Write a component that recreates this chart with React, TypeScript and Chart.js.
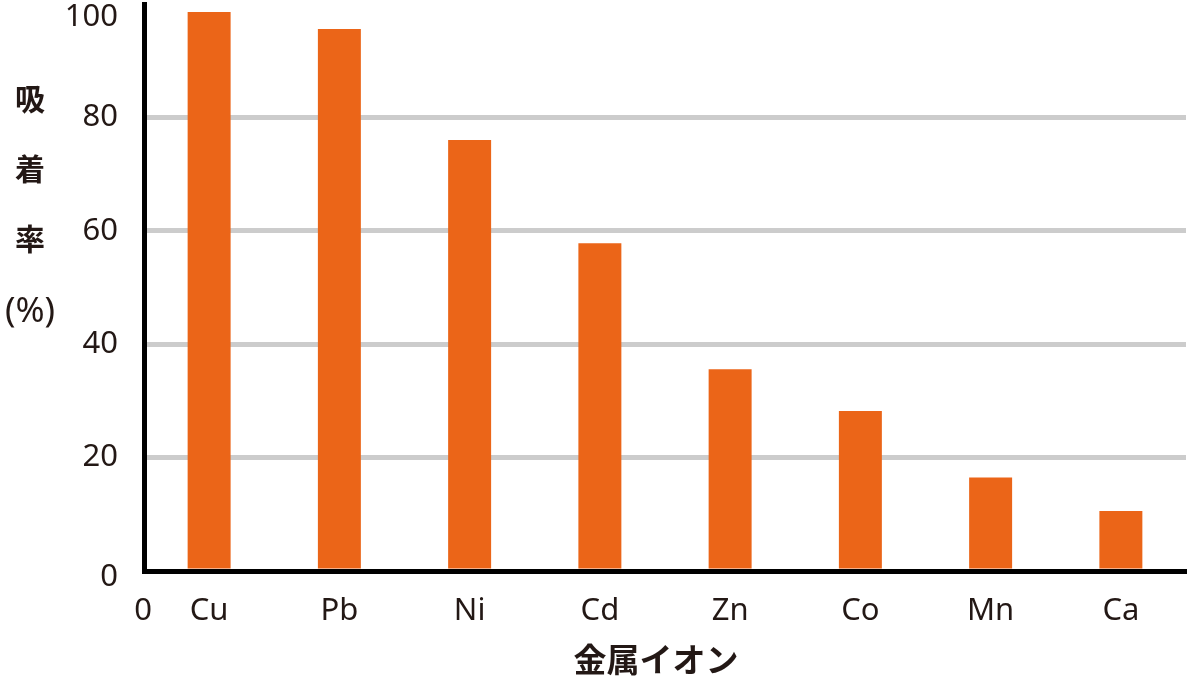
import React, { useEffect, useRef } from "react";
import { Chart, registerables } from "chart.js";

Chart.register(...registerables);

// data
const metals = ["Cu", "Pb", "Ni", "Cd", "Zn", "Co", "Mn", "Ca"];
const adsorptionRate = [98.6, 95.6, 76.0, 57.8, 35.6, 28.2, 16.5, 10.6];
const yTickValues = [0, 20, 40, 60, 80, 100];
const yTitleLines = ["吸", "着", "率", "(%)"];
const xTitle = "金属イオン";
const originLabel = "0";

const TEXT = "#231815";
const LATIN = '"Noto Sans", "Open Sans", sans-serif';
const CJK = '"Noto Sans CJK JP", "Noto Sans", sans-serif';

// draws the y tick labels, the extra "0" under the origin and both axis titles
const labelsPlugin = {
  id: "labels",
  afterDraw(chart: Chart) {
    const ctx = chart.ctx;
    const { left, right, top, bottom } = chart.chartArea;
    const y = chart.scales.y;
    ctx.save();
    ctx.fillStyle = TEXT;
    ctx.font = `31px ${LATIN}`;
    ctx.textAlign = "right";
    ctx.textBaseline = "middle";
    yTickValues.forEach((v) => {
      let py = y.getPixelForValue(v);
      if (v === yTickValues[yTickValues.length - 1]) py = Math.max(py, top + 13);
      if (v === 0) py += 6;
      ctx.fillText(String(v), left - 26, py);
    });

    ctx.textAlign = "center";
    ctx.fillText(originLabel, left - 1, bottom + 40);

    // vertical y title, one character per line
    yTitleLines.forEach((s, i) => {
      ctx.font = s.length > 1 ? `35px ${LATIN}` : `bold 30px ${CJK}`;
      ctx.fillText(s, left - 114, top + 95 + i * 70 + (s.length > 1 ? 3 : 0));
    });

    ctx.font = `bold 33px ${CJK}`;
    ctx.fillText(xTitle, (left + right) / 2 - 9, bottom + 88);
    ctx.restore();
  },
};

const App: React.FC = () => {
  const canvasRef = useRef<HTMLCanvasElement | null>(null);

  useEffect(() => {
    const ctx = canvasRef.current?.getContext("2d");
    if (!ctx) return;

    const chart = new Chart(ctx, {
      type: "bar",
      data: {
        labels: metals,
        datasets: [
          {
            label: "吸着率",
            data: adsorptionRate,
            backgroundColor: "#EB6518",
            borderWidth: 0,
            barPercentage: 0.33,
            categoryPercentage: 1,
          },
        ],
      },
      options: {
        animation: false,
        responsive: true,
        maintainAspectRatio: false,
        layout: { padding: { top: 4, right: 13, left: 0, bottom: 0 } },
        plugins: {
          legend: { display: false },
          tooltip: { enabled: false },
        },
        scales: {
          x: {
            grid: { display: false },
            border: { display: true, color: "#000", width: 5, z: 1 },
            ticks: {
              color: TEXT,
              font: { family: LATIN, size: 31 },
              padding: 14,
            },
            afterFit: (s: any) => {
              s.height = 120;
            },
          },
          y: {
            min: 0,
            max: 100,
            ticks: { stepSize: 20, display: false },
            grid: {
              drawTicks: false,
              lineWidth: 5,
              color: (c: any) =>
                c.tick && c.tick.value > 0 && c.tick.value < 100 ? "#cccccc" : "rgba(0,0,0,0)",
            },
            border: { display: true, color: "#000", width: 5, z: 1 },
            afterFit: (s: any) => {
              s.width = 144;
            },
          },
        },
      },
      plugins: [labelsPlugin],
    });

    return () => {
      chart.destroy();
    };
  }, []);

  return (
    <div style={{ position: "absolute", left: 0, top: 0, width: 1199, height: 691, background: "#fff" }}>
      <canvas ref={canvasRef}></canvas>
    </div>
  );
};

export default App;
